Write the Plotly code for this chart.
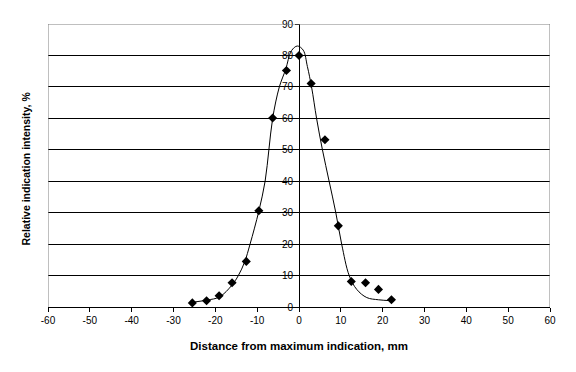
import plotly.graph_objects as go

# Measured points
pt_x = [-25.5, -22.1, -19.1, -16.0, -12.6, -9.6, -6.3, -3.0, 0.0, 2.9, 6.2, 9.4, 12.5, 15.9, 19.0, 22.1]
pt_y = [1.3, 2.0, 3.6, 7.7, 14.5, 30.6, 60.1, 75.2, 80.0, 71.1, 53.2, 25.8, 8.1, 7.7, 5.6, 2.3]

# Fitted curve
cv_x = [-25.5, -22.0, -19.0, -16.0, -14.5, -13.0, -11.7, -9.6, -8.1, -7.2, -6.3, -4.7, -3.2, -1.8, -0.4,
        1.0, 2.0, 3.0, 4.2, 5.6, 7.2, 8.8, 10.2, 12.0, 13.8, 16.2, 19.0, 22.1]
cv_y = [1.5, 2.2, 3.2, 7.0, 10.0, 14.3, 20.0, 30.5, 40.0, 50.0, 60.0, 70.0, 75.5, 81.5, 83.0,
        81.7, 76.5, 70.0, 60.0, 50.0, 40.0, 30.0, 20.0, 10.0, 5.6, 3.0, 2.3, 2.0]

x_ticks = list(range(-60, 61, 10))
x_tick_labels = ["-60", "-50", "-40", "-30", "-20", "-10", "0", "10", "20", "30", "40", "50", "60"]
y_ticks = list(range(0, 91, 10))
y_tick_labels = ["0", "10", "20", "30", "40", "50", "60", "70", "80", "90"]

font = "Liberation Sans, Arial, sans-serif"

fig = go.Figure()
fig.add_trace(go.Scatter(x=cv_x, y=cv_y, mode="lines",
                         line=dict(color="black", width=1, shape="spline", smoothing=1.0),
                         hoverinfo="skip", showlegend=False))
fig.add_trace(go.Scatter(x=pt_x, y=pt_y, mode="markers",
                         marker=dict(symbol="diamond", size=7, color="black"), showlegend=False))

fig.update_layout(
    width=568, height=364,
    margin=dict(l=40, r=26, t=16, b=65, autoexpand=False),
    paper_bgcolor="white", plot_bgcolor="white",
    font=dict(family=font, size=10, color="black"),
    xaxis=dict(range=[-60, 60], tickvals=x_ticks, ticktext=x_tick_labels, showgrid=False,
               automargin=False,
               zeroline=True, zerolinecolor="black", zerolinewidth=1,
               showline=True, linecolor="black", linewidth=1,
               ticks="outside", ticklen=4, tickcolor="black",
               title=dict(text="<b>Distance from maximum indication, mm</b>", font=dict(size=11.5), standoff=16)),
    yaxis=dict(range=[0, 90], tickvals=y_ticks, ticktext=y_tick_labels, anchor="free", position=0.5,
               automargin=False,
               showgrid=True, gridcolor="black", gridwidth=1, zeroline=False,
               showline=False, ticks="outside", ticklen=4, tickcolor="black"),
    annotations=[dict(text="<b>Relative indication intensity, %</b>", x=-0.044, y=0.489,
                      xref="paper", yref="paper", xanchor="center", yanchor="middle",
                      textangle=-90, showarrow=False, font=dict(size=10.5))],
    shapes=[
        dict(type="line", xref="x", yref="y", x0=-60, x1=60, y0=90, y1=90, line=dict(color="#808080", width=1)),
        dict(type="line", xref="x", yref="y", x0=-60, x1=-60, y0=0, y1=90, line=dict(color="#808080", width=1)),
        dict(type="line", xref="x", yref="y", x0=60, x1=60, y0=0, y1=90, line=dict(color="#808080", width=1)),
    ],
)

fig.write_html("out.html")
